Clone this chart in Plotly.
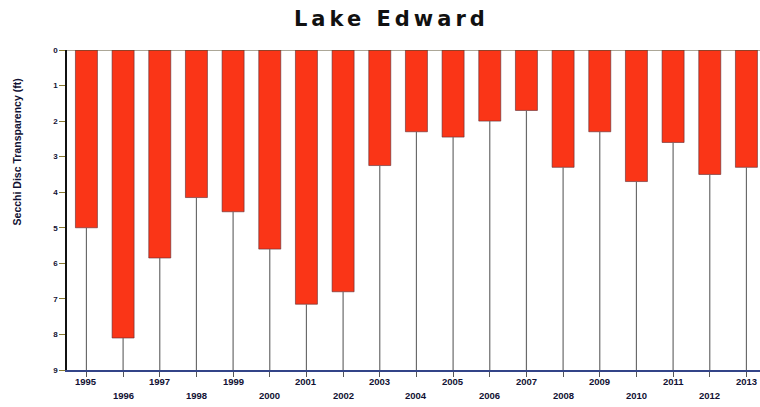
import plotly.graph_objects as go

years = ["1995", "1996", "1997", "1998", "1999", "2000", "2001", "2002", "2003", "2004",
         "2005", "2006", "2007", "2008", "2009", "2010", "2011", "2012", "2013"]
secchi = [5.0, 8.1, 5.85, 4.15, 4.55, 5.6, 7.15, 6.8, 3.25, 2.3,
          2.45, 2.0, 1.7, 3.3, 2.3, 3.7, 2.6, 3.5, 3.3]
y_ticks = [0, 1, 2, 3, 4, 5, 6, 7, 8, 9]
y_max = 9

fig = go.Figure()

# drop lines from each bar end down to the axis
dx, dy = [], []
for yr, v in zip(years, secchi):
    dx += [yr, yr, None]
    dy += [v, y_max, None]
fig.add_trace(go.Scatter(x=dx, y=dy, mode="lines",
                         line=dict(color="#6a6a6a", width=1.2),
                         hoverinfo="skip", showlegend=False))

fig.add_trace(go.Bar(x=years, y=secchi, width=0.6,
                     marker=dict(color="#FA3517", line=dict(color="#5a2a30", width=0.6)),
                     showlegend=False))

# staggered year labels (x given as category index)
annotations = []
for i, yr in enumerate(years):
    annotations.append(dict(x=i, xref="x", y=0, yref="paper",
                            yshift=-11 if i % 2 == 0 else -25,
                            text="<b>%s</b>" % yr, showarrow=False,
                            yanchor="middle", xanchor="center",
                            font=dict(family="Liberation Sans", size=9.5, color="#111133")))

annotations.append(dict(x=0, xref="paper", xshift=-50, y=0.68, yref="paper",
                        text="<b>Secchi Disc Transparency (ft)</b>", textangle=-90,
                        showarrow=False, xanchor="center", yanchor="middle",
                        font=dict(family="Liberation Sans", size=10.5, color="#111133")))

fig.update_layout(
    width=760, height=407,
    margin=dict(l=67, r=0, t=50, b=37),
    paper_bgcolor="white", plot_bgcolor="white",
    title=dict(text='<b><span style="letter-spacing:4px">Lake Edward</span></b>',
               x=0.515, xanchor="center", y=0.955, yanchor="middle",
               font=dict(family="DejaVu Sans", size=21, color="#111111")),
    bargap=0.4,
    annotations=annotations,
    shapes=[dict(type="line", xref="paper", x0=0, x1=1, yref="y", y0=0, y1=0,
                 line=dict(color="#5a5030", width=1))],
)

fig.update_xaxes(type="category", range=[-0.53, 18.37], showticklabels=False,
                 ticks="outside", ticklen=5, tickcolor="#555555",
                 showline=True, linecolor="#334488", linewidth=1.5,
                 showgrid=False, zeroline=False)
fig.update_yaxes(range=[y_max, 0], tickvals=y_ticks,
                 ticktext=["<b>%d</b>" % t for t in y_ticks],
                 ticks="outside", ticklen=6, tickcolor="#8a7a30",
                 tickfont=dict(family="Liberation Sans", size=8, color="#111133"),
                 showline=True, linecolor="#111111", linewidth=1.5,
                 showgrid=False, zeroline=False)

fig.write_html("out.html", config={"displayModeBar": False},
               post_script="document.body.style.margin='0';")
